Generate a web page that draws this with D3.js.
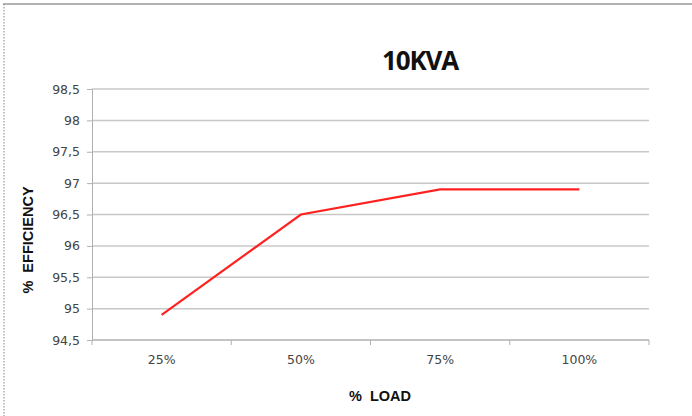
<!DOCTYPE html>
<html lang="en">
<head>
  <meta charset="UTF-8">
  <title>10KVA - D3</title>
  <script src="https://d3js.org/d3.v7.min.js"></script>
  <style>
    body { margin: 0; background: #fff; font-family: "DejaVu Sans", Arial, sans-serif; }
    .tick text { fill: #444; }
    .axis path, .axis line { stroke: #b0b0b0; }
    .grid line { stroke: #c8c8c8; stroke-width: 1.5; }
    .title { font-family: "Open Sans", "Liberation Sans", sans-serif; font-size: 26px; font-weight: bold; fill: #111; letter-spacing: -1.2px; }
    .axis-title { font-family: "Liberation Sans", Arial, sans-serif; font-size: 14.5px; font-weight: bold; fill: #111; }
  </style>
</head>
<body>
<script>
  // data
  var loads = ["25%", "50%", "75%", "100%"];
  var efficiency = [94.9, 96.5, 96.9, 96.9];
  var yTicks = [94.5, 95, 95.5, 96, 96.5, 97, 97.5, 98, 98.5];

  var W = 692, H = 416;
  var margin = { top: 89, right: 43, bottom: 76, left: 92 },
      width = W - margin.left - margin.right,
      height = H - margin.top - margin.bottom;

  var svg = d3.select("body").append("svg")
      .attr("width", W).attr("height", H);

  // frame: top solid, left dotted
  svg.append("line").attr("x1", 3).attr("x2", W).attr("y1", 4).attr("y2", 4)
     .attr("stroke", "#999").attr("stroke-width", 1.5);
  svg.append("line").attr("x1", 4).attr("x2", 4).attr("y1", 4).attr("y2", H)
     .attr("stroke", "#999").attr("stroke-width", 1.2).attr("stroke-dasharray", "1.5,1.5");

  var g = svg.append("g").attr("transform", `translate(${margin.left},${margin.top})`);

  var x = d3.scaleBand().domain(loads).range([0, width]);
  var y = d3.scaleLinear().domain([94.5, 98.5]).range([height, 0]);

  var fmt = d => String(d).replace(".", ",");

  // grid
  g.append("g").attr("class", "grid")
   .selectAll("line").data(yTicks.slice(1)).enter().append("line")
   .attr("x1", 0).attr("x2", width)
   .attr("y1", d => y(d)).attr("y2", d => y(d));

  // y axis
  g.append("g").attr("class", "axis")
   .call(d3.axisLeft(y).tickValues(yTicks).tickFormat(fmt).tickSize(5).tickPadding(7))
   .call(a => a.selectAll("text").style("font-size", "12.5px").style("font-family", "DejaVu Sans"));

  // x axis with ticks between categories
  var xa = g.append("g").attr("class", "axis")
   .attr("transform", `translate(0,${height})`)
   .call(d3.axisBottom(x).tickSize(0).tickPadding(15));
  xa.selectAll("text").style("font-size", "12.5px").style("font-family", "DejaVu Sans");
  xa.select(".domain").attr("d", `M0,0H${width}`).attr("stroke-width", 1.5);
  xa.selectAll(".sep").data(d3.range(loads.length + 1)).enter().append("line")
    .attr("class", "sep")
    .attr("x1", i => i * x.step()).attr("x2", i => i * x.step())
    .attr("y1", 0).attr("y2", 5).attr("stroke", "#b0b0b0");

  // line
  var line = d3.line()
    .x((d, i) => x(loads[i]) + x.bandwidth() / 2)
    .y(d => y(d));
  g.append("path").datum(efficiency)
   .attr("fill", "none").attr("stroke", "#ff2020").attr("stroke-width", 2.2)
   .attr("d", line);

  // titles
  svg.append("text").attr("class", "title")
     .attr("x", 420).attr("y", 70).attr("text-anchor", "middle").text("10KVA");
  svg.append("text").attr("class", "axis-title")
     .attr("x", 380).attr("y", 401).attr("text-anchor", "middle")
     .attr("xml:space", "preserve").text("%  LOAD");
  svg.append("text").attr("class", "axis-title")
     .attr("transform", "translate(33,240) rotate(-90)")
     .attr("text-anchor", "middle").attr("xml:space", "preserve").text("%  EFFICIENCY");
</script>
</body>
</html>
